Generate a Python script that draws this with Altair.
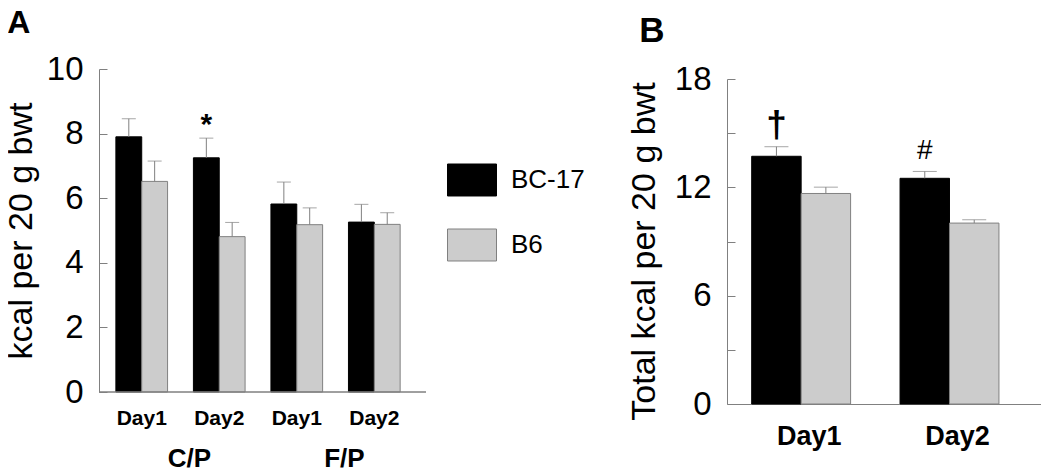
import altair as alt
import pandas as pd

FONT = "Liberation Sans"
AXC = "#808080"

strains = ["BC-17", "B6"]

# Panel A
cats_a = ["C/P Day1", "C/P Day2", "F/P Day1", "F/P Day2"]
diets_a = ["C/P", "F/P"]
bc17_a = [7.90, 7.25, 5.82, 5.26]
bc17_a_sem = [0.56, 0.61, 0.68, 0.55]
b6_a = [6.52, 4.81, 5.18, 5.19]
b6_a_sem = [0.63, 0.44, 0.52, 0.36]
sig_a = ["", "*", "", ""]

# Panel B
days_b = ["Day1", "Day2"]
bc17_b = [13.72, 12.50]
bc17_b_sem = [0.53, 0.38]
b6_b = [11.66, 10.02]
b6_b_sem = [0.35, 0.18]
sig_b = ["\u2020", "#"]


def make_df(cats, s1, e1, s2, e2, sig):
    rows = []
    for i, c in enumerate(cats):
        rows.append({"cat": c, "strain": "BC-17", "value": s1[i], "top": s1[i] + e1[i], "sig": sig[i]})
        rows.append({"cat": c, "strain": "B6", "value": s2[i], "top": s2[i] + e2[i], "sig": ""})
    return pd.DataFrame(rows)


df_a = make_df(cats_a, bc17_a, bc17_a_sem, b6_a, b6_a_sem, sig_a)
df_b = make_df(days_b, bc17_b, bc17_b_sem, b6_b, b6_b_sem, sig_b)
df_groups = pd.DataFrame({"diet": diets_a})

fill_scale = alt.Scale(domain=strains, range=["#000000", "#cccccc"])
stroke_scale = alt.Scale(domain=strains, range=["#000000", "#808080"])

legend = alt.Legend(
    title=None,
    orient="none",
    legendX=348,
    legendY=86,
    symbolType="M-1,-0.653L1,-0.653L1,0.653L-1,0.653Z",
    symbolSize=2401,
    symbolStrokeWidth=1,
    symbolOpacity=1,
    labelFont=FONT,
    labelFontSize=26,
    labelColor="black",
    labelOffset=14,
    rowPadding=22,
)


def panel(df, cats, x_scale, x_axis, band_px, y_scale, y_title, title_pad, title_y, label_vals, tick_vals, cap,
          show_legend, sig_specs):
    base = alt.Chart(df)
    x = alt.X("cat:N", sort=cats, scale=x_scale, axis=x_axis)
    xo = alt.XOffset(
        "strain:N", sort=strains,
        scale=alt.Scale(domain=strains, range=[0, band_px], paddingInner=0, paddingOuter=0),
    )
    yaxis_kw = dict(
        title=y_title,
        values=label_vals,
        ticks=False,
        grid=False,
        domain=True,
        domainColor=AXC,
        domainWidth=1,
        labelFont=FONT,
        labelFontSize=33,
        labelColor="black",
        labelPadding=16,
        titleFont=FONT,
        titleFontSize=34,
        titleFontWeight="normal",
        titleColor="black",
        titlePadding=title_pad,
    )
    if title_y is not None:
        yaxis_kw["titleY"] = title_y
    bars = base.mark_bar(strokeWidth=1).encode(
        x=x,
        xOffset=xo,
        y=alt.Y("value:Q", scale=y_scale, axis=alt.Axis(**yaxis_kw)),
        fill=alt.Fill("strain:N", sort=strains, scale=fill_scale, legend=legend if show_legend else None),
        stroke=alt.Stroke("strain:N", sort=strains, scale=stroke_scale, legend=legend if show_legend else None),
    )
    err = base.mark_rule(color=AXC, strokeWidth=1).encode(
        x=x,
        xOffset=xo,
        y=alt.Y(
            "value:Q",
            scale=y_scale,
            axis=alt.Axis(
                orient="left",
                offset=-8,
                values=tick_vals,
                labels=False,
                domain=False,
                ticks=True,
                tickSize=8,
                tickColor=AXC,
                tickWidth=1,
                grid=False,
                title=None,
            ),
        ),
        y2="top:Q",
    )
    caps = base.mark_tick(color=AXC, size=cap, thickness=1, orient="horizontal").encode(
        x=x, xOffset=xo, y=alt.Y("top:Q", scale=y_scale, axis=None)
    )
    layers = [bars, err, caps]
    for sym, fs, weight, dy in sig_specs:
        layers.append(
            base.transform_filter(alt.datum.sig == sym)
            .mark_text(font=FONT, fontSize=fs, fontWeight=weight, baseline="alphabetic", dy=dy, color="black")
            .encode(x=x, xOffset=xo, y=alt.Y("top:Q", scale=y_scale, axis=None), text="sig:N")
        )
    return alt.layer(*layers).resolve_axis(y="independent")


HA = 335
WA = 327
WB = 314

x_scale_a = alt.Scale(domain=cats_a, paddingInner=1 / 3, paddingOuter=0.2756, align=0.395)
band_a = WA / (4 - 1 / 3 + 2 * 0.2756) * (2 / 3)
x_axis_a = alt.Axis(
    title=None,
    domain=False,
    ticks=False,
    labelExpr="split(datum.label, ' ')[1]",
    labelFont=FONT,
    labelFontSize=21,
    labelFontWeight="bold",
    labelColor="black",
    labelPadding=14,
    labelBaseline="middle",
    labelAngle=0,
)
y_scale_a = alt.Scale(domain=[0, 10], range=[323, 0], nice=False, zero=True)
inner_a = panel(
    df_a, cats_a, x_scale_a, x_axis_a, band_a, y_scale_a, "kcal per 20 g bwt", 8, None,
    [0, 2, 4, 6, 8, 10], [0, 2, 4, 6, 8, 10], 14, True,
    [("*", 30, "bold", -4)],
)
baseline_a = alt.Chart(df_groups).mark_rule(color=AXC, strokeWidth=1).encode(
    y=alt.YDatum(0, scale=y_scale_a, axis=None)
)
groups_a = alt.Chart(df_groups).mark_text(opacity=0).encode(
    x=alt.X(
        "diet:N",
        sort=diets_a,
        scale=alt.Scale(type="point", domain=diets_a, padding=0.555, align=0.523),
        axis=alt.Axis(
            title=None,
            orient="bottom",
            domain=False,
            ticks=False,
            labelFont=FONT,
            labelFontSize=26,
            labelFontWeight="bold",
            labelColor="black",
            labelPadding=54,
            labelBaseline="middle",
            labelAngle=0,
        ),
    ),
    text=alt.value(""),
)
panel_a = (
    alt.layer(alt.layer(inner_a, baseline_a), groups_a)
    .resolve_scale(x="independent")
    .properties(
        width=WA,
        height=HA,
        title=alt.TitleParams("A", anchor="start", font=FONT, fontSize=32, fontWeight="bold", color="black", offset=13, dx=3),
    )
)

x_scale_b = alt.Scale(domain=days_b, paddingInner=1 / 3, paddingOuter=0.225, align=0.37)
band_b = WB / (2 - 1 / 3 + 2 * 0.225) * (2 / 3)
x_axis_b = alt.Axis(
    title=None,
    domain=True,
    domainColor=AXC,
    ticks=False,
    labelFont=FONT,
    labelFontSize=27,
    labelFontWeight="bold",
    labelColor="black",
    labelPadding=32,
    labelBaseline="middle",
    labelOffset=8,
    labelAngle=0,
)
y_scale_b = alt.Scale(domain=[0, 18], range=[HA, 10], nice=False, zero=True)
panel_b = panel(
    df_b, days_b, x_scale_b, x_axis_b, band_b, y_scale_b, "Total kcal per 20 g bwt", 13, 182,
    [0, 6, 12, 18], [0, 3, 6, 9, 12, 15, 18], 24, False,
    [("\u2020", 37, "bold", -10), ("#", 28, "normal", -12)],
).properties(
    width=WB,
    height=HA,
    title=alt.TitleParams("B", anchor="start", font=FONT, fontSize=35, fontWeight="bold", color="black", offset=14, dx=12),
)

chart = (
    alt.hconcat(panel_a, panel_b, spacing=200)
    .resolve_scale(xOffset="independent", x="independent", y="independent")
    .properties(padding={"left": -4, "top": -1, "right": 0, "bottom": 0})
    .configure(font=FONT, view=alt.ViewConfig(stroke=None))
)

chart.save("out.html", embed_options={"renderer": "svg", "actions": False})
